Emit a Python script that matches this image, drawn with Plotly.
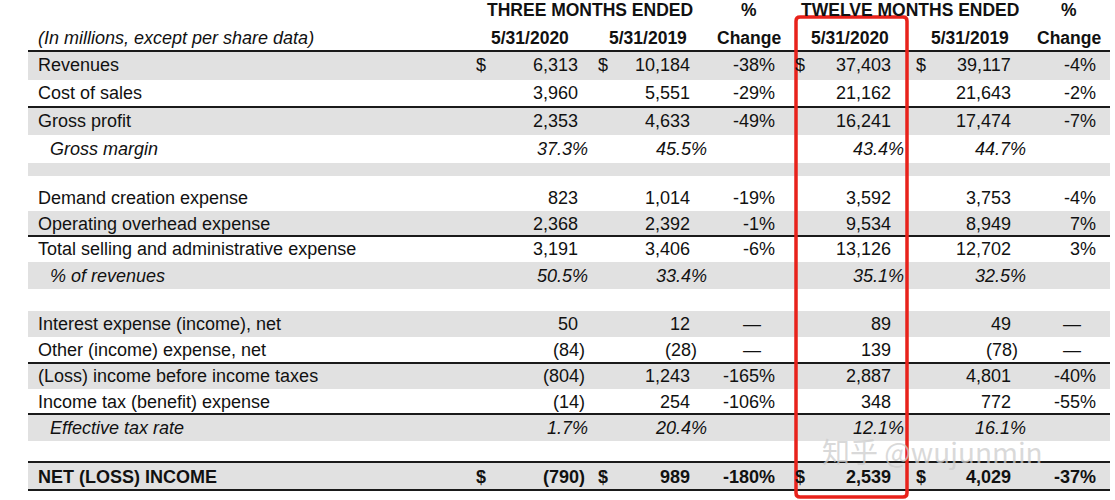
import plotly.graph_objects as go

labels = ["Revenues", "Cost of sales", "Gross profit", "Gross margin", "",
          "Demand creation expense", "Operating overhead expense",
          "Total selling and administrative expense", "% of revenues", "",
          "Interest expense (income), net", "Other (income) expense, net",
          "(Loss) income before income taxes", "Income tax (benefit) expense",
          "Effective tax rate", "", "NET (LOSS) INCOME"]
q2020 = ["6,313", "3,960", "2,353", "37.3%", "", "823", "2,368", "3,191", "50.5%", "",
         "50", "(84)", "(804)", "(14)", "1.7%", "", "(790)"]
q2019 = ["10,184", "5,551", "4,633", "45.5%", "", "1,014", "2,392", "3,406", "33.4%", "",
         "12", "(28)", "1,243", "254", "20.4%", "", "989"]
qchg = ["-38%", "-29%", "-49%", "", "", "-19%", "-1%", "-6%", "", "",
        "—", "—", "-165%", "-106%", "", "", "-180%"]
y2020 = ["37,403", "21,162", "16,241", "43.4%", "", "3,592", "9,534", "13,126", "35.1%", "",
         "89", "139", "2,887", "348", "12.1%", "", "2,539"]
y2019 = ["39,117", "21,643", "17,474", "44.7%", "", "3,753", "8,949", "12,702", "32.5%", "",
         "49", "(78)", "4,801", "772", "16.1%", "", "4,029"]
ychg = ["-4%", "-2%", "-7%", "", "", "-4%", "7%", "3%", "", "",
        "—", "—", "-40%", "-55%", "", "", "-37%"]
italic_rows = {3, 8, 14}
bold_rows = {16}
dollar_rows = {0, 16}

bands = [(51, 80, True), (80, 107, False), (107, 135, True), (135, 163, False),
         (163, 176, True), (176, 211, False), (211, 236, True), (236, 262, False),
         (262, 289, True), (289, 311, False), (311, 337, True), (337, 363, False),
         (363, 389, True), (389, 414, False), (414, 441, True), (441, 462, False),
         (462, 490, True)]
text_y = [65, 93, 121, 149, None, 198, 224, 249, 276, None, 324, 350, 376, 402, 428, None, 477]
rules = [51, 107, 236, 363, 414, 462, 490]

FONT = "Liberation Sans, Arial, sans-serif"
fig = go.Figure()
shapes = []
for t, b, g in bands:
    if g:
        shapes.append(dict(type="rect", x0=28, x1=1110, y0=t, y1=b, fillcolor="#e1e1e1",
                           line=dict(width=0), layer="below"))
for r in rules:
    shapes.append(dict(type="line", x0=28, x1=1110, y0=r, y1=r, line=dict(color="#1a1a1a", width=2)))
shapes.append(dict(type="path",
                   path="M 800 17 L 903 17 Q 907 17 907 21 L 907 493 Q 907 497 903 497 L 800 497 Q 796 497 796 493 L 796 21 Q 796 17 800 17 Z",
                   line=dict(color="#e8221b", width=3.5)))

ann = []
def add(x, y, s, anchor="right", bold=False, italic=False, size=18, color="#111"):
    if not s:
        return
    if bold:
        s = "<b>" + s + "</b>"
    if italic:
        s = "<i>" + s + "</i>"
    ann.append(dict(x=x, y=y, text=s, xanchor=anchor, yanchor="middle", showarrow=False,
                    font=dict(family=FONT, size=size, color=color)))

add(590, 10, "THREE MONTHS ENDED", "center", bold=True, size=17.5)
add(749, 10, "%", "center", bold=True, size=17.5)
add(910, 10, "TWELVE MONTHS ENDED", "center", bold=True, size=17.5)
add(1069, 10, "%", "center", bold=True, size=17.5)
add(36, 38, "(In millions, except per share data)", "left", italic=True)
for x, s in [(530, "5/31/2020"), (648, "5/31/2019"), (749, "Change"),
             (850, "5/31/2020"), (970, "5/31/2019"), (1069, "Change")]:
    add(x, 38, s, "center", bold=True, size=17.5)

def num(xr, s, y, bold, italic, pct_x):
    if italic:
        add(pct_x, y, s, "right", italic=True)
    elif s.endswith(")"):
        add(xr + 7, y, s, "right", bold=bold)
    else:
        add(xr, y, s, "right", bold=bold)

for i, lab in enumerate(labels):
    y = text_y[i]
    if y is None:
        continue
    b = i in bold_rows
    it = i in italic_rows
    add(48 if it else 36, y, lab, "left", bold=b, italic=it)
    if i in dollar_rows:
        for x in (481, 603, 800, 921):
            add(x, y, "$", "center", bold=b)
    num(580, q2020[i], y, b, it, 590)
    num(692, q2019[i], y, b, it, 709)
    if qchg[i] == "—":
        add(752, y, "—", "center")
    else:
        add(777, y, qchg[i], "right", bold=b)
    num(893, y2020[i], y, b, it, 906)
    num(1013, y2019[i], y, b, it, 1028)
    if ychg[i] == "—":
        add(1072, y, "—", "center")
    else:
        add(1098, y, ychg[i], "right", bold=b)

add(932, 451, "知乎 @wujunmin", "center", size=28, color="rgba(205,205,205,0.75)")
ann[-1]["font"]["family"] = "Noto Sans CJK SC, Liberation Sans"

fig.update_layout(width=1115, height=500, margin=dict(l=0, r=0, t=0, b=0),
                  paper_bgcolor="white", plot_bgcolor="white", shapes=shapes, annotations=ann,
                  xaxis=dict(range=[0, 1115], visible=False, fixedrange=True),
                  yaxis=dict(range=[500, 0], visible=False, fixedrange=True),
                  showlegend=False)
fig.write_html("out.html", config={"displayModeBar": False},
               post_script="document.body.style.margin='0';document.body.style.overflow='hidden';")
